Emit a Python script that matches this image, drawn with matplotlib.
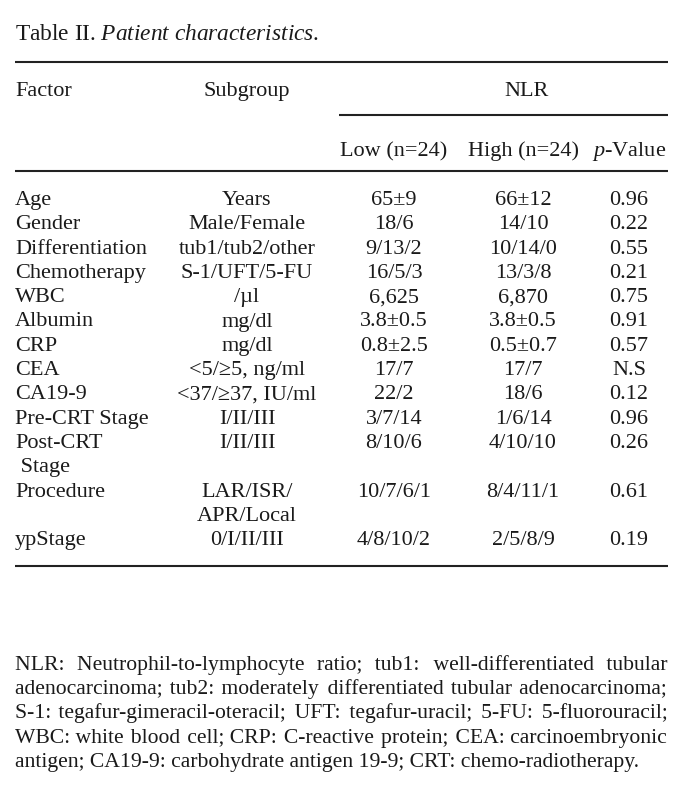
import matplotlib
matplotlib.use("Agg")
import matplotlib.pyplot as plt
from matplotlib.font_manager import FontProperties

plt.rcParams['font.family'] = ['Liberation Serif', 'DejaVu Serif']
plt.rcParams['mathtext.fontset'] = 'custom'
plt.rcParams['mathtext.rm'] = 'Liberation Serif'
plt.rcParams['mathtext.it'] = 'Liberation Serif:italic'

# table data
factors = ["Age", "Gender", "Differentiation", "Chemotherapy", "WBC", "Albumin", "CRP",
           "CEA", "CA19-9", "Pre-CRT Stage", "Post-CRT\n Stage", "Procedure", "ypStage"]
subgroups = ["Years", "Male/Female", "tub1/tub2/other", "S-1/UFT/5-FU", "/\u00b5l", "mg/dl",
             "mg/dl", "<5/\u22655, ng/ml", "<37/\u226537, IU/ml", "I/II/III", "I/II/III",
             "LAR/ISR/\nAPR/Local", "0/I/II/III"]
low = ["65\u00b19", "18/6", "9/13/2", "16/5/3", "6,625", "3.8\u00b10.5", "0.8\u00b12.5",
       "17/7", "22/2", "3/7/14", "8/10/6", "10/7/6/1", "4/8/10/2"]
high = ["66\u00b112", "14/10", "10/14/0", "13/3/8", "6,870", "3.8\u00b10.5", "0.5\u00b10.7",
        "17/7", "18/6", "1/6/14", "4/10/10", "8/4/11/1", "2/5/8/9"]
pvals = ["0.96", "0.22", "0.55", "0.21", "0.75", "0.91", "0.57", "N.S", "0.12", "0.96",
         "0.26", "0.61", "0.19"]

title = r"Table II. $\it{Patient\ characteristics}$."
footnote = ["NLR: Neutrophil-to-lymphocyte ratio; tub1: well-differentiated tubular",
            "adenocarcinoma; tub2: moderately differentiated tubular adenocarcinoma;",
            "S-1: tegafur-gimeracil-oteracil; UFT: tegafur-uracil; 5-FU: 5-fluorouracil;",
            "WBC: white blood cell; CRP: C-reactive protein; CEA: carcinoembryonic",
            "antigen; CA19-9: carbohydrate antigen 19-9; CRT: chemo-radiotherapy."]

W, H = 682, 794
fs = 16
fs_note = 15.6
col = '#1a1a1a'
fig = plt.figure(figsize=(W / 100, H / 100), dpi=100)
ax = fig.add_axes([0, 0, 1, 1])
ax.set_xlim(0, W)
ax.set_ylim(H, 0)
ax.axis('off')

left, right = 15, 668
x_sub, x_low, x_high, x_p = 247, 394, 523, 629

def txt(x, y, s, ha='left', size=fs, **kw):
    return ax.text(x, y, s, ha=ha, va='baseline', fontsize=size, color=col, **kw)

def rule(y, x0=left, x1=right):
    ax.plot([x0, x1], [y, y], color='#222222', lw=1.5, solid_capstyle='butt')

# title + header
txt(left, 40, title, size=16.8)
rule(62)
txt(left, 96, "Factor")
txt(x_sub, 96, "Subgroup", ha='center')
txt(527, 96, "NLR", ha='center')
rule(115, 339, right)
txt(x_low, 156, "Low (n=24)", ha='center')
txt(x_high, 156, "High (n=24)", ha='center')
txt(x_p, 156, r"$\it{p}$-Value", ha='center')
rule(171)

# body rows
y0, pitch = 205, 24.3
line = 0
for f, s, lo, hi, p in zip(factors, subgroups, low, high, pvals):
    y = y0 + pitch * line
    flines = f.split("\n")
    slines = s.split("\n")
    for k, fl in enumerate(flines):
        txt(left, y + pitch * k, fl)
    for k, sl in enumerate(slines):
        txt(x_sub, y + pitch * k, sl, ha='center')
    txt(x_low, y, lo, ha='center')
    txt(x_high, y, hi, ha='center')
    txt(x_p, y, p, ha='center')
    line += max(len(flines), len(slines))
rule(y0 + pitch * (line - 1) + 21)

# justified footnote: pad the word gaps with hair spaces, one text per line
fig.canvas.draw()
r = fig.canvas.get_renderer()

def width(s, size):
    prop = FontProperties(family=['Liberation Serif', 'DejaVu Serif'], size=size)
    return r.get_text_width_height_descent(s, prop, ismath=False)[0]

hair = "\u200a"
fy0, fpitch = 670, 24.2
for i, ln in enumerate(footnote):
    y = fy0 + fpitch * i
    size = fs_note
    if i == len(footnote) - 1:
        txt(left, y, ln, size=size)
        continue
    while width(ln, size) > right - left - 2:
        size -= 0.1
    hw = (width("a" + hair * 10 + "a", size) - width("aa", size)) / 10
    words = ln.split(" ")
    extra = (right - left) - width(ln, size)
    per_gap = extra / (len(words) - 1) / hw
    s, used = words[0], 0
    for k, wd in enumerate(words[1:], 1):
        n = int(per_gap * k) - used
        used += n
        s += " " + hair * n + wd
    txt(left, y, s, size=size)

fig.savefig("out.png", dpi=100)
